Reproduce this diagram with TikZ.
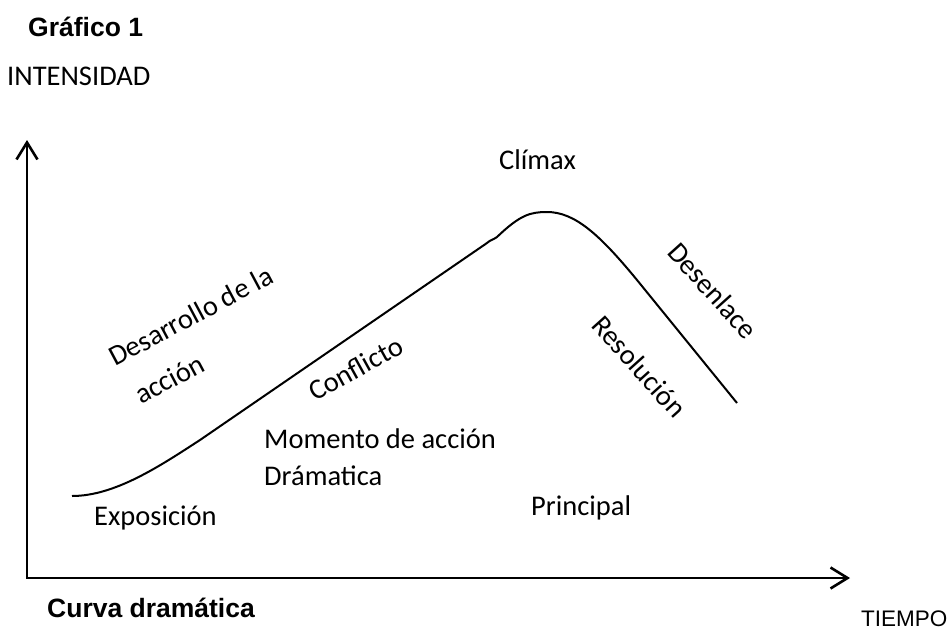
\documentclass[tikz,border=0pt]{standalone}
\usepackage{fontspec}
\setmainfont{Carlito}
\newfontfamily\arialfont{Liberation Sans}
\usetikzlibrary{arrows.meta, positioning}

\tikzset{
  eje/.style={line width=2.6pt, miter limit=4,
    {Straight Barb[length=17pt,width=21pt]}-{Straight Barb[length=17pt,width=21pt]}},
  curva/.style={line width=2pt, line join=round},
  etiqueta/.style={anchor=base west, inner sep=0pt, font=\fontsize{28.5}{34}\selectfont},
  titulo/.style={anchor=base west, inner sep=0pt, font=\arialfont\bfseries\fontsize{26.5}{31}\selectfont},
}

\begin{document}
\begin{tikzpicture}[x=1pt,y=-1pt]

        % Marco de la figura
        \useasboundingbox (0,0) rectangle (952,629);

        % Títulos
        \node[titulo] (grafico) at (28,36) {Gráfico 1};
        \node[etiqueta] (intensidad) at (7,85) {INTENSIDAD};
        \node[titulo] (curvadram) at (47,617) {Curva dramática};
        \node[anchor=base west, inner sep=0pt, font=\arialfont\fontsize{22.5}{27}\selectfont] (tiempo) at (861,626.5) {TIEMPO};

        % Ejes
        \coordinate (O) at (27,578);
        \coordinate (ytip) at (27,140);
        \coordinate (xtip) at (850,578);
        \draw[eje] (ytip) -- (O) -- (xtip); % Ejes intensidad y tiempo

        % Curva dramática
        \coordinate (inicio) at (72,496);
        \coordinate (subida) at (200,440);
        \coordinate (quiebre) at (487,243);
        \coordinate (cima) at (547,212);
        \coordinate (bajada) at (637,280);
        \coordinate (fin) at (737,403);
        \draw[curva] (inicio) .. controls (115,496) and (160,466) .. (subida) -- (quiebre)
            .. controls (490,240) and (493,240) .. (497,237)
            .. controls (520,215) and (530,212) .. (cima)
            .. controls (575,212) and (600,235) .. (bajada) -- (fin);

        % Etiquetas de las fases
        \node[etiqueta] (exposicion) at (94,525) {Exposición};
        \node[etiqueta, rotate=28] (desarrollo) at (115,367) {Desarrollo de la};
        \node[etiqueta, rotate=28] (accion) at (141,405) {acción};
        \node[etiqueta, rotate=29] (conflicto) at (315,402) {Conflicto};
        \node[etiqueta] (momento) at (264,448) {Momento de acción};
        \node[etiqueta] (dramatica) at (264,485) {Drámatica};
        \node[etiqueta] (climax) at (499,169) {Clímax};
        \node[etiqueta, rotate=-48] (desenlace) at (666,253) {Desenlace};
        \node[etiqueta, rotate=-48] (resolucion) at (590,326) {Resolución};
        \node[etiqueta] (principal) at (531,515) {Principal};

\end{tikzpicture}
\end{document}
